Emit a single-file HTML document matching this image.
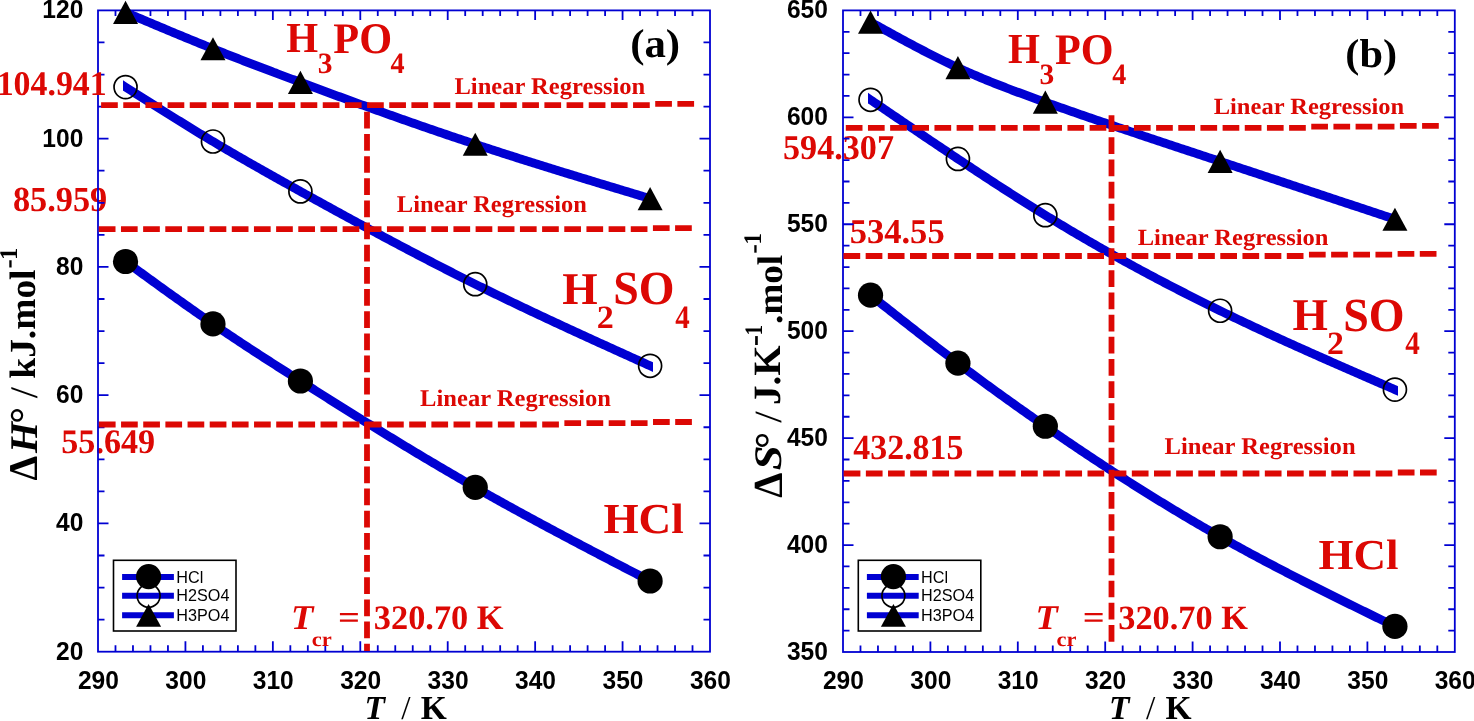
<!DOCTYPE html>
<html><head><meta charset="utf-8"><title>Thermodynamic parameters</title>
<style>html,body{margin:0;padding:0;background:#fff;width:1474px;height:721px;overflow:hidden}</style>
</head><body>
<svg width="1474" height="721" viewBox="0 0 1474 721" style="display:block" text-rendering="geometricPrecision">
<rect width="1474" height="721" fill="#fff"/>
<text transform="translate(12.98,211.41) scale(0.9718,1)" font-family="'Liberation Serif', serif" font-weight="bold" font-size="35.27" fill="#dc0804">85.959</text>
<text transform="translate(61.29,453.26) scale(0.9901,1)" font-family="'Liberation Serif', serif" font-weight="bold" font-size="34.48" fill="#dc0804">55.649</text>
<text transform="translate(782.98,159.20) scale(0.9829,1)" font-family="'Liberation Serif', serif" font-weight="bold" font-size="34.77" fill="#dc0804">594.307</text>
<text transform="translate(849.65,243.02) scale(0.9924,1)" font-family="'Liberation Serif', serif" font-weight="bold" font-size="34.82" fill="#dc0804">534.55</text>
<text transform="translate(853.34,459.37) scale(0.9594,1)" font-family="'Liberation Serif', serif" font-weight="bold" font-size="35.30" fill="#dc0804">432.815</text>
<rect x="98" y="10.4" width="612.00" height="641.30" fill="none" stroke="#0000d2" stroke-width="1.8"/>
<path d="M115.49 651.70V645.20M115.49 10.40V15.90M132.97 651.70V645.20M132.97 10.40V15.90M150.46 651.70V645.20M150.46 10.40V15.90M167.94 651.70V645.20M167.94 10.40V15.90M185.43 651.70V641.20M185.43 10.40V19.90M202.91 651.70V645.20M202.91 10.40V15.90M220.40 651.70V645.20M220.40 10.40V15.90M237.89 651.70V645.20M237.89 10.40V15.90M255.37 651.70V645.20M255.37 10.40V15.90M272.86 651.70V641.20M272.86 10.40V19.90M290.34 651.70V645.20M290.34 10.40V15.90M307.83 651.70V645.20M307.83 10.40V15.90M325.31 651.70V645.20M325.31 10.40V15.90M342.80 651.70V645.20M342.80 10.40V15.90M360.29 651.70V641.20M360.29 10.40V19.90M377.77 651.70V645.20M377.77 10.40V15.90M395.26 651.70V645.20M395.26 10.40V15.90M412.74 651.70V645.20M412.74 10.40V15.90M430.23 651.70V645.20M430.23 10.40V15.90M447.71 651.70V641.20M447.71 10.40V19.90M465.20 651.70V645.20M465.20 10.40V15.90M482.69 651.70V645.20M482.69 10.40V15.90M500.17 651.70V645.20M500.17 10.40V15.90M517.66 651.70V645.20M517.66 10.40V15.90M535.14 651.70V641.20M535.14 10.40V19.90M552.63 651.70V645.20M552.63 10.40V15.90M570.11 651.70V645.20M570.11 10.40V15.90M587.60 651.70V645.20M587.60 10.40V15.90M605.09 651.70V645.20M605.09 10.40V15.90M622.57 651.70V641.20M622.57 10.40V19.90M640.06 651.70V645.20M640.06 10.40V15.90M657.54 651.70V645.20M657.54 10.40V15.90M675.03 651.70V645.20M675.03 10.40V15.90M692.51 651.70V645.20M692.51 10.40V15.90M98.00 619.63H104.50M710.00 619.63H703.50M98.00 587.57H104.50M710.00 587.57H703.50M98.00 555.50H104.50M710.00 555.50H703.50M98.00 523.44H108.50M710.00 523.44H699.50M98.00 491.38H104.50M710.00 491.38H703.50M98.00 459.31H104.50M710.00 459.31H703.50M98.00 427.25H104.50M710.00 427.25H703.50M98.00 395.18H108.50M710.00 395.18H699.50M98.00 363.12H104.50M710.00 363.12H703.50M98.00 331.05H104.50M710.00 331.05H703.50M98.00 298.98H104.50M710.00 298.98H703.50M98.00 266.92H108.50M710.00 266.92H699.50M98.00 234.85H104.50M710.00 234.85H703.50M98.00 202.79H104.50M710.00 202.79H703.50M98.00 170.72H104.50M710.00 170.72H703.50M98.00 138.66H108.50M710.00 138.66H699.50M98.00 106.60H104.50M710.00 106.60H703.50M98.00 74.53H104.50M710.00 74.53H703.50M98.00 42.46H104.50M710.00 42.46H703.50" stroke="#0000d2" stroke-width="1.8" fill="none"/>
<rect x="843" y="10.4" width="611.80" height="641.60" fill="none" stroke="#0000d2" stroke-width="1.8"/>
<path d="M860.48 652.00V645.50M860.48 10.40V15.90M877.96 652.00V645.50M877.96 10.40V15.90M895.44 652.00V645.50M895.44 10.40V15.90M912.92 652.00V645.50M912.92 10.40V15.90M930.40 652.00V641.50M930.40 10.40V19.90M947.88 652.00V645.50M947.88 10.40V15.90M965.36 652.00V645.50M965.36 10.40V15.90M982.84 652.00V645.50M982.84 10.40V15.90M1000.32 652.00V645.50M1000.32 10.40V15.90M1017.80 652.00V641.50M1017.80 10.40V19.90M1035.28 652.00V645.50M1035.28 10.40V15.90M1052.76 652.00V645.50M1052.76 10.40V15.90M1070.24 652.00V645.50M1070.24 10.40V15.90M1087.72 652.00V645.50M1087.72 10.40V15.90M1105.20 652.00V641.50M1105.20 10.40V19.90M1122.68 652.00V645.50M1122.68 10.40V15.90M1140.16 652.00V645.50M1140.16 10.40V15.90M1157.64 652.00V645.50M1157.64 10.40V15.90M1175.12 652.00V645.50M1175.12 10.40V15.90M1192.60 652.00V641.50M1192.60 10.40V19.90M1210.08 652.00V645.50M1210.08 10.40V15.90M1227.56 652.00V645.50M1227.56 10.40V15.90M1245.04 652.00V645.50M1245.04 10.40V15.90M1262.52 652.00V645.50M1262.52 10.40V15.90M1280.00 652.00V641.50M1280.00 10.40V19.90M1297.48 652.00V645.50M1297.48 10.40V15.90M1314.96 652.00V645.50M1314.96 10.40V15.90M1332.44 652.00V645.50M1332.44 10.40V15.90M1349.92 652.00V645.50M1349.92 10.40V15.90M1367.40 652.00V641.50M1367.40 10.40V19.90M1384.88 652.00V645.50M1384.88 10.40V15.90M1402.36 652.00V645.50M1402.36 10.40V15.90M1419.84 652.00V645.50M1419.84 10.40V15.90M1437.32 652.00V645.50M1437.32 10.40V15.90M843.00 630.61H849.50M1454.80 630.61H1448.30M843.00 609.23H849.50M1454.80 609.23H1448.30M843.00 587.84H849.50M1454.80 587.84H1448.30M843.00 566.45H849.50M1454.80 566.45H1448.30M843.00 545.07H853.50M1454.80 545.07H1444.30M843.00 523.68H849.50M1454.80 523.68H1448.30M843.00 502.29H849.50M1454.80 502.29H1448.30M843.00 480.91H849.50M1454.80 480.91H1448.30M843.00 459.52H849.50M1454.80 459.52H1448.30M843.00 438.13H853.50M1454.80 438.13H1444.30M843.00 416.75H849.50M1454.80 416.75H1448.30M843.00 395.36H849.50M1454.80 395.36H1448.30M843.00 373.97H849.50M1454.80 373.97H1448.30M843.00 352.59H849.50M1454.80 352.59H1448.30M843.00 331.20H853.50M1454.80 331.20H1444.30M843.00 309.81H849.50M1454.80 309.81H1448.30M843.00 288.43H849.50M1454.80 288.43H1448.30M843.00 267.04H849.50M1454.80 267.04H1448.30M843.00 245.65H849.50M1454.80 245.65H1448.30M843.00 224.27H853.50M1454.80 224.27H1444.30M843.00 202.88H849.50M1454.80 202.88H1448.30M843.00 181.49H849.50M1454.80 181.49H1448.30M843.00 160.11H849.50M1454.80 160.11H1448.30M843.00 138.72H849.50M1454.80 138.72H1448.30M843.00 117.33H853.50M1454.80 117.33H1444.30M843.00 95.95H849.50M1454.80 95.95H1448.30M843.00 74.56H849.50M1454.80 74.56H1448.30M843.00 53.17H849.50M1454.80 53.17H1448.30M843.00 31.79H849.50M1454.80 31.79H1448.30" stroke="#0000d2" stroke-width="1.8" fill="none"/>
<clipPath id="clip1"><rect x="122.94" y="0" width="530.17" height="721"/></clipPath>
<g clip-path="url(#clip1)">
<path d="M117.54 9.01 L125.54 12.40 L127.54 13.25 L129.54 14.09 L131.54 14.94 L133.54 15.79 L135.54 16.63 L137.54 17.48 L139.54 18.32 L141.54 19.17 L143.54 20.01 L145.54 20.86 L147.54 21.70 L149.54 22.54 L151.54 23.39 L153.54 24.23 L155.54 25.07 L157.54 25.91 L159.54 26.75 L161.54 27.59 L163.54 28.43 L165.54 29.27 L167.54 30.10 L169.54 30.94 L171.54 31.77 L173.54 32.61 L175.54 33.44 L177.54 34.27 L179.54 35.10 L181.54 35.93 L183.54 36.76 L185.54 37.58 L187.54 38.41 L189.54 39.23 L191.54 40.05 L193.54 40.87 L195.54 41.69 L197.54 42.51 L199.54 43.32 L201.54 44.14 L203.54 44.95 L205.54 45.76 L207.54 46.57 L209.54 47.37 L211.54 48.18 L213.54 48.98 L215.54 49.78 L217.54 50.58 L219.54 51.37 L221.54 52.17 L223.54 52.96 L225.54 53.75 L227.54 54.54 L229.54 55.32 L231.54 56.11 L233.54 56.89 L235.54 57.67 L237.54 58.45 L239.54 59.23 L241.54 60.01 L243.54 60.78 L245.54 61.56 L247.54 62.33 L249.54 63.10 L251.54 63.87 L253.54 64.63 L255.54 65.40 L257.54 66.16 L259.54 66.93 L261.54 67.69 L263.54 68.45 L265.54 69.21 L267.54 69.97 L269.54 70.73 L271.54 71.48 L273.54 72.24 L275.54 72.99 L277.54 73.75 L279.54 74.50 L281.54 75.25 L283.54 76.00 L285.54 76.75 L287.54 77.50 L289.54 78.25 L291.54 79.00 L293.54 79.74 L295.54 80.49 L297.54 81.24 L299.54 81.98 L301.54 82.73 L303.54 83.47 L305.54 84.21 L307.54 84.96 L309.54 85.70 L311.54 86.44 L313.54 87.18 L315.54 87.92 L317.54 88.66 L319.54 89.40 L321.54 90.14 L323.54 90.87 L325.54 91.61 L327.54 92.35 L329.54 93.08 L331.54 93.82 L333.54 94.55 L335.54 95.29 L337.54 96.02 L339.54 96.75 L341.54 97.48 L343.54 98.21 L345.54 98.94 L347.54 99.67 L349.54 100.40 L351.54 101.13 L353.54 101.86 L355.54 102.58 L357.54 103.31 L359.54 104.03 L361.54 104.76 L363.54 105.48 L365.54 106.20 L367.54 106.92 L369.54 107.64 L371.54 108.36 L373.54 109.08 L375.54 109.80 L377.54 110.51 L379.54 111.23 L381.54 111.94 L383.54 112.66 L385.54 113.37 L387.54 114.08 L389.54 114.80 L391.54 115.51 L393.54 116.21 L395.54 116.92 L397.54 117.63 L399.54 118.34 L401.54 119.04 L403.54 119.75 L405.54 120.45 L407.54 121.15 L409.54 121.85 L411.54 122.55 L413.54 123.25 L415.54 123.95 L417.54 124.65 L419.54 125.34 L421.54 126.04 L423.54 126.73 L425.54 127.42 L427.54 128.11 L429.54 128.80 L431.54 129.49 L433.54 130.18 L435.54 130.87 L437.54 131.55 L439.54 132.24 L441.54 132.92 L443.54 133.60 L445.54 134.28 L447.54 134.96 L449.54 135.64 L451.54 136.32 L453.54 136.99 L455.54 137.67 L457.54 138.34 L459.54 139.01 L461.54 139.69 L463.54 140.36 L465.54 141.02 L467.54 141.69 L469.54 142.36 L471.54 143.02 L473.54 143.68 L475.54 144.34 L477.54 145.00 L479.54 145.66 L481.54 146.32 L483.54 146.98 L485.54 147.63 L487.54 148.29 L489.54 148.94 L491.54 149.59 L493.54 150.24 L495.54 150.89 L497.54 151.54 L499.54 152.18 L501.54 152.83 L503.54 153.47 L505.54 154.11 L507.54 154.76 L509.54 155.40 L511.54 156.04 L513.54 156.68 L515.54 157.31 L517.54 157.95 L519.54 158.58 L521.54 159.22 L523.54 159.85 L525.54 160.48 L527.54 161.12 L529.54 161.75 L531.54 162.38 L533.54 163.01 L535.54 163.63 L537.54 164.26 L539.54 164.89 L541.54 165.51 L543.54 166.14 L545.54 166.76 L547.54 167.38 L549.54 168.00 L551.54 168.62 L553.54 169.24 L555.54 169.86 L557.54 170.48 L559.54 171.10 L561.54 171.72 L563.54 172.34 L565.54 172.95 L567.54 173.57 L569.54 174.18 L571.54 174.80 L573.54 175.41 L575.54 176.02 L577.54 176.64 L579.54 177.25 L581.54 177.86 L583.54 178.47 L585.54 179.08 L587.54 179.69 L589.54 180.30 L591.54 180.91 L593.54 181.52 L595.54 182.12 L597.54 182.73 L599.54 183.34 L601.54 183.94 L603.54 184.55 L605.54 185.16 L607.54 185.76 L609.54 186.37 L611.54 186.97 L613.54 187.58 L615.54 188.18 L617.54 188.79 L619.54 189.39 L621.54 189.99 L623.54 190.60 L625.54 191.20 L627.54 191.80 L629.54 192.41 L631.54 193.01 L633.54 193.61 L635.54 194.21 L637.54 194.82 L639.54 195.42 L641.54 196.02 L643.54 196.62 L645.54 197.22 L647.54 197.83 L649.54 198.43 L650.11 198.60 L658.11 201.01" stroke="#0000d2" stroke-width="8.8" fill="none" stroke-linejoin="round"/>
<path d="M117.54 82.02 L125.54 87.10 L127.54 88.37 L129.54 89.64 L131.54 90.91 L133.54 92.18 L135.54 93.44 L137.54 94.71 L139.54 95.98 L141.54 97.25 L143.54 98.51 L145.54 99.78 L147.54 101.04 L149.54 102.31 L151.54 103.57 L153.54 104.83 L155.54 106.09 L157.54 107.35 L159.54 108.61 L161.54 109.87 L163.54 111.12 L165.54 112.38 L167.54 113.63 L169.54 114.88 L171.54 116.13 L173.54 117.38 L175.54 118.63 L177.54 119.87 L179.54 121.11 L181.54 122.35 L183.54 123.59 L185.54 124.82 L187.54 126.06 L189.54 127.29 L191.54 128.52 L193.54 129.74 L195.54 130.97 L197.54 132.19 L199.54 133.40 L201.54 134.62 L203.54 135.83 L205.54 137.04 L207.54 138.24 L209.54 139.45 L211.54 140.65 L213.54 141.84 L215.54 143.03 L217.54 144.22 L219.54 145.41 L221.54 146.59 L223.54 147.77 L225.54 148.95 L227.54 150.12 L229.54 151.29 L231.54 152.46 L233.54 153.62 L235.54 154.79 L237.54 155.95 L239.54 157.10 L241.54 158.26 L243.54 159.41 L245.54 160.56 L247.54 161.71 L249.54 162.85 L251.54 164.00 L253.54 165.14 L255.54 166.27 L257.54 167.41 L259.54 168.55 L261.54 169.68 L263.54 170.81 L265.54 171.94 L267.54 173.07 L269.54 174.19 L271.54 175.32 L273.54 176.44 L275.54 177.56 L277.54 178.68 L279.54 179.80 L281.54 180.92 L283.54 182.03 L285.54 183.15 L287.54 184.26 L289.54 185.37 L291.54 186.49 L293.54 187.60 L295.54 188.71 L297.54 189.82 L299.54 190.92 L301.54 192.03 L303.54 193.14 L305.54 194.25 L307.54 195.35 L309.54 196.46 L311.54 197.57 L313.54 198.67 L315.54 199.77 L317.54 200.88 L319.54 201.98 L321.54 203.08 L323.54 204.18 L325.54 205.28 L327.54 206.38 L329.54 207.48 L331.54 208.58 L333.54 209.67 L335.54 210.77 L337.54 211.86 L339.54 212.96 L341.54 214.05 L343.54 215.14 L345.54 216.24 L347.54 217.33 L349.54 218.42 L351.54 219.50 L353.54 220.59 L355.54 221.68 L357.54 222.76 L359.54 223.85 L361.54 224.93 L363.54 226.01 L365.54 227.09 L367.54 228.17 L369.54 229.25 L371.54 230.33 L373.54 231.41 L375.54 232.48 L377.54 233.56 L379.54 234.63 L381.54 235.70 L383.54 236.77 L385.54 237.84 L387.54 238.91 L389.54 239.97 L391.54 241.04 L393.54 242.10 L395.54 243.16 L397.54 244.22 L399.54 245.28 L401.54 246.34 L403.54 247.40 L405.54 248.45 L407.54 249.51 L409.54 250.56 L411.54 251.61 L413.54 252.66 L415.54 253.71 L417.54 254.75 L419.54 255.80 L421.54 256.84 L423.54 257.88 L425.54 258.92 L427.54 259.96 L429.54 261.00 L431.54 262.03 L433.54 263.07 L435.54 264.10 L437.54 265.13 L439.54 266.15 L441.54 267.18 L443.54 268.20 L445.54 269.23 L447.54 270.25 L449.54 271.27 L451.54 272.28 L453.54 273.30 L455.54 274.31 L457.54 275.33 L459.54 276.33 L461.54 277.34 L463.54 278.35 L465.54 279.35 L467.54 280.35 L469.54 281.35 L471.54 282.35 L473.54 283.35 L475.54 284.34 L477.54 285.33 L479.54 286.32 L481.54 287.31 L483.54 288.30 L485.54 289.28 L487.54 290.26 L489.54 291.24 L491.54 292.22 L493.54 293.20 L495.54 294.17 L497.54 295.14 L499.54 296.12 L501.54 297.08 L503.54 298.05 L505.54 299.02 L507.54 299.98 L509.54 300.94 L511.54 301.90 L513.54 302.86 L515.54 303.82 L517.54 304.78 L519.54 305.73 L521.54 306.68 L523.54 307.63 L525.54 308.58 L527.54 309.53 L529.54 310.48 L531.54 311.42 L533.54 312.37 L535.54 313.31 L537.54 314.25 L539.54 315.19 L541.54 316.13 L543.54 317.07 L545.54 318.00 L547.54 318.94 L549.54 319.87 L551.54 320.81 L553.54 321.74 L555.54 322.67 L557.54 323.60 L559.54 324.52 L561.54 325.45 L563.54 326.38 L565.54 327.30 L567.54 328.23 L569.54 329.15 L571.54 330.07 L573.54 330.99 L575.54 331.91 L577.54 332.83 L579.54 333.75 L581.54 334.67 L583.54 335.58 L585.54 336.50 L587.54 337.42 L589.54 338.33 L591.54 339.24 L593.54 340.16 L595.54 341.07 L597.54 341.98 L599.54 342.89 L601.54 343.80 L603.54 344.71 L605.54 345.62 L607.54 346.53 L609.54 347.44 L611.54 348.35 L613.54 349.26 L615.54 350.16 L617.54 351.07 L619.54 351.98 L621.54 352.88 L623.54 353.79 L625.54 354.69 L627.54 355.60 L629.54 356.50 L631.54 357.41 L633.54 358.31 L635.54 359.22 L637.54 360.12 L639.54 361.02 L641.54 361.93 L643.54 362.83 L645.54 363.73 L647.54 364.64 L649.54 365.54 L650.11 365.80 L658.11 369.41" stroke="#0000d2" stroke-width="8.8" fill="none" stroke-linejoin="round"/>
<path d="M117.54 255.67 L125.54 261.50 L127.54 262.96 L129.54 264.41 L131.54 265.87 L133.54 267.33 L135.54 268.78 L137.54 270.24 L139.54 271.69 L141.54 273.15 L143.54 274.60 L145.54 276.05 L147.54 277.50 L149.54 278.95 L151.54 280.40 L153.54 281.85 L155.54 283.30 L157.54 284.74 L159.54 286.19 L161.54 287.63 L163.54 289.07 L165.54 290.51 L167.54 291.95 L169.54 293.38 L171.54 294.82 L173.54 296.25 L175.54 297.68 L177.54 299.11 L179.54 300.53 L181.54 301.95 L183.54 303.37 L185.54 304.79 L187.54 306.20 L189.54 307.61 L191.54 309.02 L193.54 310.43 L195.54 311.83 L197.54 313.23 L199.54 314.62 L201.54 316.01 L203.54 317.40 L205.54 318.79 L207.54 320.17 L209.54 321.55 L211.54 322.92 L213.54 324.29 L215.54 325.66 L217.54 327.02 L219.54 328.38 L221.54 329.73 L223.54 331.08 L225.54 332.43 L227.54 333.77 L229.54 335.11 L231.54 336.45 L233.54 337.78 L235.54 339.11 L237.54 340.44 L239.54 341.76 L241.54 343.08 L243.54 344.40 L245.54 345.72 L247.54 347.03 L249.54 348.34 L251.54 349.65 L253.54 350.95 L255.54 352.26 L257.54 353.56 L259.54 354.85 L261.54 356.15 L263.54 357.44 L265.54 358.73 L267.54 360.02 L269.54 361.31 L271.54 362.60 L273.54 363.88 L275.54 365.16 L277.54 366.45 L279.54 367.73 L281.54 369.00 L283.54 370.28 L285.54 371.56 L287.54 372.83 L289.54 374.10 L291.54 375.38 L293.54 376.65 L295.54 377.92 L297.54 379.19 L299.54 380.46 L301.54 381.72 L303.54 382.99 L305.54 384.26 L307.54 385.53 L309.54 386.79 L311.54 388.06 L313.54 389.32 L315.54 390.59 L317.54 391.85 L319.54 393.11 L321.54 394.37 L323.54 395.63 L325.54 396.89 L327.54 398.15 L329.54 399.41 L331.54 400.67 L333.54 401.92 L335.54 403.18 L337.54 404.43 L339.54 405.69 L341.54 406.94 L343.54 408.19 L345.54 409.44 L347.54 410.69 L349.54 411.94 L351.54 413.19 L353.54 414.44 L355.54 415.68 L357.54 416.92 L359.54 418.17 L361.54 419.41 L363.54 420.65 L365.54 421.89 L367.54 423.13 L369.54 424.36 L371.54 425.60 L373.54 426.83 L375.54 428.07 L377.54 429.30 L379.54 430.53 L381.54 431.76 L383.54 432.98 L385.54 434.21 L387.54 435.43 L389.54 436.66 L391.54 437.88 L393.54 439.10 L395.54 440.32 L397.54 441.53 L399.54 442.75 L401.54 443.96 L403.54 445.17 L405.54 446.39 L407.54 447.59 L409.54 448.80 L411.54 450.01 L413.54 451.21 L415.54 452.41 L417.54 453.61 L419.54 454.81 L421.54 456.01 L423.54 457.20 L425.54 458.40 L427.54 459.59 L429.54 460.78 L431.54 461.96 L433.54 463.15 L435.54 464.33 L437.54 465.51 L439.54 466.69 L441.54 467.87 L443.54 469.05 L445.54 470.22 L447.54 471.39 L449.54 472.56 L451.54 473.73 L453.54 474.89 L455.54 476.06 L457.54 477.22 L459.54 478.38 L461.54 479.53 L463.54 480.69 L465.54 481.84 L467.54 482.99 L469.54 484.13 L471.54 485.28 L473.54 486.42 L475.54 487.56 L477.54 488.70 L479.54 489.84 L481.54 490.97 L483.54 492.10 L485.54 493.23 L487.54 494.36 L489.54 495.48 L491.54 496.60 L493.54 497.72 L495.54 498.84 L497.54 499.96 L499.54 501.07 L501.54 502.18 L503.54 503.29 L505.54 504.40 L507.54 505.51 L509.54 506.61 L511.54 507.71 L513.54 508.81 L515.54 509.91 L517.54 511.01 L519.54 512.10 L521.54 513.19 L523.54 514.29 L525.54 515.38 L527.54 516.46 L529.54 517.55 L531.54 518.63 L533.54 519.72 L535.54 520.80 L537.54 521.88 L539.54 522.96 L541.54 524.03 L543.54 525.11 L545.54 526.18 L547.54 527.25 L549.54 528.32 L551.54 529.39 L553.54 530.46 L555.54 531.53 L557.54 532.60 L559.54 533.66 L561.54 534.72 L563.54 535.79 L565.54 536.85 L567.54 537.91 L569.54 538.96 L571.54 540.02 L573.54 541.08 L575.54 542.13 L577.54 543.19 L579.54 544.24 L581.54 545.29 L583.54 546.35 L585.54 547.40 L587.54 548.45 L589.54 549.50 L591.54 550.54 L593.54 551.59 L595.54 552.64 L597.54 553.68 L599.54 554.73 L601.54 555.77 L603.54 556.82 L605.54 557.86 L607.54 558.90 L609.54 559.94 L611.54 560.99 L613.54 562.03 L615.54 563.07 L617.54 564.11 L619.54 565.15 L621.54 566.19 L623.54 567.22 L625.54 568.26 L627.54 569.30 L629.54 570.34 L631.54 571.38 L633.54 572.41 L635.54 573.45 L637.54 574.49 L639.54 575.52 L641.54 576.56 L643.54 577.60 L645.54 578.63 L647.54 579.67 L649.54 580.70 L650.11 581.00 L658.11 585.14" stroke="#0000d2" stroke-width="8.8" fill="none" stroke-linejoin="round"/>
</g>
<clipPath id="clip2"><rect x="867.93" y="0" width="530.00" height="721"/></clipPath>
<g clip-path="url(#clip2)">
<path d="M862.53 17.62 L870.53 22.05 L872.53 23.16 L874.53 24.26 L876.53 25.37 L878.53 26.47 L880.53 27.58 L882.53 28.68 L884.53 29.78 L886.53 30.88 L888.53 31.98 L890.53 33.08 L892.53 34.18 L894.53 35.27 L896.53 36.36 L898.53 37.45 L900.53 38.54 L902.53 39.62 L904.53 40.70 L906.53 41.77 L908.53 42.85 L910.53 43.92 L912.53 44.98 L914.53 46.04 L916.53 47.10 L918.53 48.15 L920.53 49.20 L922.53 50.25 L924.53 51.28 L926.53 52.32 L928.53 53.34 L930.53 54.37 L932.53 55.38 L934.53 56.39 L936.53 57.40 L938.53 58.39 L940.53 59.39 L942.53 60.37 L944.53 61.35 L946.53 62.32 L948.53 63.28 L950.53 64.23 L952.53 65.18 L954.53 66.12 L956.53 67.05 L958.53 67.98 L960.53 68.89 L962.53 69.80 L964.53 70.70 L966.53 71.59 L968.53 72.47 L970.53 73.34 L972.53 74.21 L974.53 75.07 L976.53 75.92 L978.53 76.77 L980.53 77.61 L982.53 78.44 L984.53 79.27 L986.53 80.09 L988.53 80.90 L990.53 81.71 L992.53 82.52 L994.53 83.31 L996.53 84.10 L998.53 84.89 L1000.53 85.67 L1002.53 86.45 L1004.53 87.22 L1006.53 87.99 L1008.53 88.75 L1010.53 89.51 L1012.53 90.26 L1014.53 91.01 L1016.53 91.76 L1018.53 92.50 L1020.53 93.24 L1022.53 93.98 L1024.53 94.71 L1026.53 95.44 L1028.53 96.17 L1030.53 96.90 L1032.53 97.62 L1034.53 98.34 L1036.53 99.06 L1038.53 99.78 L1040.53 100.49 L1042.53 101.20 L1044.53 101.92 L1046.53 102.63 L1048.53 103.34 L1050.53 104.04 L1052.53 104.75 L1054.53 105.46 L1056.53 106.16 L1058.53 106.87 L1060.53 107.57 L1062.53 108.27 L1064.53 108.97 L1066.53 109.67 L1068.53 110.37 L1070.53 111.07 L1072.53 111.77 L1074.53 112.46 L1076.53 113.16 L1078.53 113.85 L1080.53 114.54 L1082.53 115.24 L1084.53 115.93 L1086.53 116.62 L1088.53 117.31 L1090.53 117.99 L1092.53 118.68 L1094.53 119.37 L1096.53 120.05 L1098.53 120.74 L1100.53 121.42 L1102.53 122.11 L1104.53 122.79 L1106.53 123.47 L1108.53 124.15 L1110.53 124.83 L1112.53 125.51 L1114.53 126.19 L1116.53 126.87 L1118.53 127.55 L1120.53 128.23 L1122.53 128.90 L1124.53 129.58 L1126.53 130.25 L1128.53 130.93 L1130.53 131.60 L1132.53 132.28 L1134.53 132.95 L1136.53 133.62 L1138.53 134.29 L1140.53 134.96 L1142.53 135.63 L1144.53 136.30 L1146.53 136.97 L1148.53 137.64 L1150.53 138.31 L1152.53 138.98 L1154.53 139.65 L1156.53 140.32 L1158.53 140.98 L1160.53 141.65 L1162.53 142.32 L1164.53 142.98 L1166.53 143.65 L1168.53 144.31 L1170.53 144.98 L1172.53 145.64 L1174.53 146.31 L1176.53 146.97 L1178.53 147.63 L1180.53 148.30 L1182.53 148.96 L1184.53 149.62 L1186.53 150.29 L1188.53 150.95 L1190.53 151.61 L1192.53 152.27 L1194.53 152.93 L1196.53 153.60 L1198.53 154.26 L1200.53 154.92 L1202.53 155.58 L1204.53 156.24 L1206.53 156.90 L1208.53 157.57 L1210.53 158.23 L1212.53 158.89 L1214.53 159.55 L1216.53 160.21 L1218.53 160.87 L1220.53 161.53 L1222.53 162.19 L1224.53 162.85 L1226.53 163.52 L1228.53 164.18 L1230.53 164.84 L1232.53 165.50 L1234.53 166.16 L1236.53 166.82 L1238.53 167.48 L1240.53 168.15 L1242.53 168.81 L1244.53 169.47 L1246.53 170.13 L1248.53 170.79 L1250.53 171.45 L1252.53 172.11 L1254.53 172.78 L1256.53 173.44 L1258.53 174.10 L1260.53 174.76 L1262.53 175.42 L1264.53 176.08 L1266.53 176.74 L1268.53 177.41 L1270.53 178.07 L1272.53 178.73 L1274.53 179.39 L1276.53 180.05 L1278.53 180.72 L1280.53 181.38 L1282.53 182.04 L1284.53 182.70 L1286.53 183.36 L1288.53 184.02 L1290.53 184.69 L1292.53 185.35 L1294.53 186.01 L1296.53 186.67 L1298.53 187.33 L1300.53 188.00 L1302.53 188.66 L1304.53 189.32 L1306.53 189.98 L1308.53 190.64 L1310.53 191.31 L1312.53 191.97 L1314.53 192.63 L1316.53 193.29 L1318.53 193.95 L1320.53 194.62 L1322.53 195.28 L1324.53 195.94 L1326.53 196.60 L1328.53 197.26 L1330.53 197.93 L1332.53 198.59 L1334.53 199.25 L1336.53 199.91 L1338.53 200.57 L1340.53 201.24 L1342.53 201.90 L1344.53 202.56 L1346.53 203.22 L1348.53 203.89 L1350.53 204.55 L1352.53 205.21 L1354.53 205.87 L1356.53 206.53 L1358.53 207.20 L1360.53 207.86 L1362.53 208.52 L1364.53 209.18 L1366.53 209.85 L1368.53 210.51 L1370.53 211.17 L1372.53 211.83 L1374.53 212.49 L1376.53 213.16 L1378.53 213.82 L1380.53 214.48 L1382.53 215.14 L1384.53 215.81 L1386.53 216.47 L1388.53 217.13 L1390.53 217.79 L1392.53 218.46 L1394.53 219.12 L1394.93 219.25 L1402.93 221.90" stroke="#0000d2" stroke-width="8.8" fill="none" stroke-linejoin="round"/>
<path d="M862.53 94.35 L870.53 99.80 L872.53 101.16 L874.53 102.52 L876.53 103.89 L878.53 105.25 L880.53 106.61 L882.53 107.97 L884.53 109.33 L886.53 110.69 L888.53 112.06 L890.53 113.42 L892.53 114.78 L894.53 116.14 L896.53 117.50 L898.53 118.86 L900.53 120.22 L902.53 121.57 L904.53 122.93 L906.53 124.29 L908.53 125.65 L910.53 127.00 L912.53 128.36 L914.53 129.71 L916.53 131.07 L918.53 132.42 L920.53 133.77 L922.53 135.13 L924.53 136.48 L926.53 137.83 L928.53 139.18 L930.53 140.53 L932.53 141.87 L934.53 143.22 L936.53 144.57 L938.53 145.91 L940.53 147.26 L942.53 148.60 L944.53 149.94 L946.53 151.28 L948.53 152.62 L950.53 153.96 L952.53 155.30 L954.53 156.63 L956.53 157.97 L958.53 159.30 L960.53 160.63 L962.53 161.96 L964.53 163.29 L966.53 164.62 L968.53 165.94 L970.53 167.27 L972.53 168.59 L974.53 169.91 L976.53 171.23 L978.53 172.55 L980.53 173.86 L982.53 175.18 L984.53 176.49 L986.53 177.80 L988.53 179.11 L990.53 180.41 L992.53 181.72 L994.53 183.02 L996.53 184.32 L998.53 185.61 L1000.53 186.91 L1002.53 188.20 L1004.53 189.49 L1006.53 190.78 L1008.53 192.06 L1010.53 193.35 L1012.53 194.63 L1014.53 195.90 L1016.53 197.18 L1018.53 198.45 L1020.53 199.72 L1022.53 200.98 L1024.53 202.25 L1026.53 203.51 L1028.53 204.76 L1030.53 206.02 L1032.53 207.27 L1034.53 208.52 L1036.53 209.76 L1038.53 211.00 L1040.53 212.24 L1042.53 213.48 L1044.53 214.71 L1046.53 215.94 L1048.53 217.16 L1050.53 218.38 L1052.53 219.60 L1054.53 220.82 L1056.53 222.03 L1058.53 223.23 L1060.53 224.44 L1062.53 225.64 L1064.53 226.84 L1066.53 228.03 L1068.53 229.22 L1070.53 230.41 L1072.53 231.60 L1074.53 232.78 L1076.53 233.95 L1078.53 235.13 L1080.53 236.30 L1082.53 237.47 L1084.53 238.63 L1086.53 239.80 L1088.53 240.96 L1090.53 242.11 L1092.53 243.26 L1094.53 244.41 L1096.53 245.56 L1098.53 246.70 L1100.53 247.84 L1102.53 248.98 L1104.53 250.11 L1106.53 251.24 L1108.53 252.37 L1110.53 253.49 L1112.53 254.61 L1114.53 255.73 L1116.53 256.85 L1118.53 257.96 L1120.53 259.07 L1122.53 260.18 L1124.53 261.28 L1126.53 262.38 L1128.53 263.48 L1130.53 264.57 L1132.53 265.66 L1134.53 266.75 L1136.53 267.83 L1138.53 268.92 L1140.53 270.00 L1142.53 271.07 L1144.53 272.15 L1146.53 273.22 L1148.53 274.29 L1150.53 275.35 L1152.53 276.42 L1154.53 277.47 L1156.53 278.53 L1158.53 279.59 L1160.53 280.64 L1162.53 281.69 L1164.53 282.73 L1166.53 283.77 L1168.53 284.82 L1170.53 285.85 L1172.53 286.89 L1174.53 287.92 L1176.53 288.95 L1178.53 289.98 L1180.53 291.00 L1182.53 292.02 L1184.53 293.04 L1186.53 294.06 L1188.53 295.07 L1190.53 296.08 L1192.53 297.09 L1194.53 298.10 L1196.53 299.10 L1198.53 300.10 L1200.53 301.10 L1202.53 302.10 L1204.53 303.09 L1206.53 304.08 L1208.53 305.07 L1210.53 306.05 L1212.53 307.04 L1214.53 308.02 L1216.53 309.00 L1218.53 309.97 L1220.53 310.94 L1222.53 311.92 L1224.53 312.88 L1226.53 313.85 L1228.53 314.81 L1230.53 315.78 L1232.53 316.74 L1234.53 317.69 L1236.53 318.65 L1238.53 319.60 L1240.53 320.55 L1242.53 321.50 L1244.53 322.45 L1246.53 323.39 L1248.53 324.33 L1250.53 325.27 L1252.53 326.21 L1254.53 327.15 L1256.53 328.08 L1258.53 329.01 L1260.53 329.94 L1262.53 330.87 L1264.53 331.80 L1266.53 332.72 L1268.53 333.65 L1270.53 334.57 L1272.53 335.49 L1274.53 336.40 L1276.53 337.32 L1278.53 338.24 L1280.53 339.15 L1282.53 340.06 L1284.53 340.97 L1286.53 341.88 L1288.53 342.79 L1290.53 343.69 L1292.53 344.59 L1294.53 345.50 L1296.53 346.40 L1298.53 347.30 L1300.53 348.20 L1302.53 349.09 L1304.53 349.99 L1306.53 350.88 L1308.53 351.78 L1310.53 352.67 L1312.53 353.56 L1314.53 354.45 L1316.53 355.34 L1318.53 356.23 L1320.53 357.11 L1322.53 358.00 L1324.53 358.88 L1326.53 359.77 L1328.53 360.65 L1330.53 361.53 L1332.53 362.41 L1334.53 363.29 L1336.53 364.17 L1338.53 365.05 L1340.53 365.93 L1342.53 366.80 L1344.53 367.68 L1346.53 368.56 L1348.53 369.43 L1350.53 370.30 L1352.53 371.18 L1354.53 372.05 L1356.53 372.92 L1358.53 373.79 L1360.53 374.67 L1362.53 375.54 L1364.53 376.41 L1366.53 377.28 L1368.53 378.15 L1370.53 379.02 L1372.53 379.88 L1374.53 380.75 L1376.53 381.62 L1378.53 382.49 L1380.53 383.36 L1382.53 384.22 L1384.53 385.09 L1386.53 385.96 L1388.53 386.83 L1390.53 387.69 L1392.53 388.56 L1394.53 389.43 L1394.93 389.60 L1402.93 393.07" stroke="#0000d2" stroke-width="8.8" fill="none" stroke-linejoin="round"/>
<path d="M862.53 288.88 L870.53 295.20 L872.53 296.78 L874.53 298.36 L876.53 299.94 L878.53 301.52 L880.53 303.10 L882.53 304.68 L884.53 306.26 L886.53 307.83 L888.53 309.41 L890.53 310.99 L892.53 312.56 L894.53 314.14 L896.53 315.71 L898.53 317.29 L900.53 318.86 L902.53 320.43 L904.53 322.00 L906.53 323.57 L908.53 325.14 L910.53 326.70 L912.53 328.27 L914.53 329.83 L916.53 331.39 L918.53 332.95 L920.53 334.51 L922.53 336.06 L924.53 337.61 L926.53 339.17 L928.53 340.72 L930.53 342.26 L932.53 343.81 L934.53 345.35 L936.53 346.89 L938.53 348.43 L940.53 349.96 L942.53 351.50 L944.53 353.03 L946.53 354.55 L948.53 356.08 L950.53 357.60 L952.53 359.12 L954.53 360.63 L956.53 362.14 L958.53 363.65 L960.53 365.16 L962.53 366.66 L964.53 368.16 L966.53 369.65 L968.53 371.15 L970.53 372.64 L972.53 374.12 L974.53 375.61 L976.53 377.09 L978.53 378.56 L980.53 380.04 L982.53 381.51 L984.53 382.97 L986.53 384.44 L988.53 385.90 L990.53 387.36 L992.53 388.81 L994.53 390.27 L996.53 391.72 L998.53 393.16 L1000.53 394.61 L1002.53 396.05 L1004.53 397.49 L1006.53 398.92 L1008.53 400.36 L1010.53 401.79 L1012.53 403.21 L1014.53 404.64 L1016.53 406.06 L1018.53 407.48 L1020.53 408.90 L1022.53 410.31 L1024.53 411.72 L1026.53 413.13 L1028.53 414.54 L1030.53 415.94 L1032.53 417.34 L1034.53 418.74 L1036.53 420.14 L1038.53 421.53 L1040.53 422.92 L1042.53 424.31 L1044.53 425.70 L1046.53 427.08 L1048.53 428.46 L1050.53 429.84 L1052.53 431.22 L1054.53 432.59 L1056.53 433.96 L1058.53 435.33 L1060.53 436.70 L1062.53 438.07 L1064.53 439.43 L1066.53 440.79 L1068.53 442.15 L1070.53 443.50 L1072.53 444.85 L1074.53 446.20 L1076.53 447.55 L1078.53 448.89 L1080.53 450.24 L1082.53 451.57 L1084.53 452.91 L1086.53 454.25 L1088.53 455.58 L1090.53 456.91 L1092.53 458.23 L1094.53 459.56 L1096.53 460.88 L1098.53 462.19 L1100.53 463.51 L1102.53 464.82 L1104.53 466.13 L1106.53 467.44 L1108.53 468.74 L1110.53 470.04 L1112.53 471.34 L1114.53 472.64 L1116.53 473.93 L1118.53 475.22 L1120.53 476.51 L1122.53 477.80 L1124.53 479.08 L1126.53 480.36 L1128.53 481.63 L1130.53 482.91 L1132.53 484.18 L1134.53 485.44 L1136.53 486.71 L1138.53 487.97 L1140.53 489.23 L1142.53 490.48 L1144.53 491.73 L1146.53 492.98 L1148.53 494.23 L1150.53 495.47 L1152.53 496.71 L1154.53 497.95 L1156.53 499.19 L1158.53 500.42 L1160.53 501.64 L1162.53 502.87 L1164.53 504.09 L1166.53 505.31 L1168.53 506.52 L1170.53 507.74 L1172.53 508.95 L1174.53 510.15 L1176.53 511.35 L1178.53 512.55 L1180.53 513.75 L1182.53 514.94 L1184.53 516.13 L1186.53 517.32 L1188.53 518.50 L1190.53 519.68 L1192.53 520.86 L1194.53 522.03 L1196.53 523.20 L1198.53 524.37 L1200.53 525.53 L1202.53 526.69 L1204.53 527.85 L1206.53 529.00 L1208.53 530.15 L1210.53 531.30 L1212.53 532.44 L1214.53 533.58 L1216.53 534.71 L1218.53 535.85 L1220.53 536.98 L1222.53 538.10 L1224.53 539.22 L1226.53 540.34 L1228.53 541.46 L1230.53 542.57 L1232.53 543.68 L1234.53 544.78 L1236.53 545.88 L1238.53 546.98 L1240.53 548.08 L1242.53 549.17 L1244.53 550.26 L1246.53 551.35 L1248.53 552.43 L1250.53 553.51 L1252.53 554.59 L1254.53 555.66 L1256.53 556.74 L1258.53 557.81 L1260.53 558.87 L1262.53 559.94 L1264.53 561.00 L1266.53 562.06 L1268.53 563.11 L1270.53 564.16 L1272.53 565.22 L1274.53 566.26 L1276.53 567.31 L1278.53 568.35 L1280.53 569.40 L1282.53 570.43 L1284.53 571.47 L1286.53 572.51 L1288.53 573.54 L1290.53 574.57 L1292.53 575.60 L1294.53 576.62 L1296.53 577.65 L1298.53 578.67 L1300.53 579.69 L1302.53 580.71 L1304.53 581.73 L1306.53 582.74 L1308.53 583.75 L1310.53 584.76 L1312.53 585.77 L1314.53 586.78 L1316.53 587.79 L1318.53 588.79 L1320.53 589.80 L1322.53 590.80 L1324.53 591.80 L1326.53 592.80 L1328.53 593.79 L1330.53 594.79 L1332.53 595.79 L1334.53 596.78 L1336.53 597.77 L1338.53 598.76 L1340.53 599.75 L1342.53 600.74 L1344.53 601.73 L1346.53 602.72 L1348.53 603.70 L1350.53 604.69 L1352.53 605.67 L1354.53 606.66 L1356.53 607.64 L1358.53 608.62 L1360.53 609.60 L1362.53 610.58 L1364.53 611.56 L1366.53 612.54 L1368.53 613.52 L1370.53 614.50 L1372.53 615.47 L1374.53 616.45 L1376.53 617.43 L1378.53 618.40 L1380.53 619.38 L1382.53 620.36 L1384.53 621.33 L1386.53 622.31 L1388.53 623.28 L1390.53 624.26 L1392.53 625.23 L1394.53 626.21 L1394.93 626.40 L1402.93 630.30" stroke="#0000d2" stroke-width="8.8" fill="none" stroke-linejoin="round"/>
</g>
<path d="M101.10 105.10H117.80M123.26 105.10H139.96M145.43 105.10H162.13M167.59 105.10H184.29M189.76 105.10H206.46M211.92 105.10H228.62M234.09 105.10H250.79M256.25 105.10H272.95M278.42 105.10H295.12M300.58 105.10H317.28M322.75 105.10H339.45M344.92 105.10H361.62M367.08 105.10H383.78M389.25 105.10H405.95M411.41 105.10H428.11M433.58 105.10H450.28M455.74 105.10H472.44M477.91 105.10H494.61M500.07 105.10H516.77M522.24 105.10H538.94M544.40 105.10H561.10M566.57 105.10H583.27M588.73 105.10H605.43M610.89 105.10H627.60M633.06 105.10H649.76M655.22 103.90H671.92M677.39 103.90H694.09" stroke="#dc0804" stroke-width="5.8" fill="none"/>
<path d="M98.80 229.20H115.50M120.97 229.20H137.66M143.13 229.20H159.83M165.29 229.20H181.99M187.46 229.20H204.16M209.62 229.20H226.32M231.79 229.20H248.49M253.95 229.20H270.65M276.12 229.20H292.82M298.28 229.20H314.98M320.45 229.20H337.15M342.62 229.20H359.31M364.78 229.20H381.48M386.95 229.20H403.65M409.11 229.20H425.81M431.28 229.20H447.98M453.44 229.20H470.14M475.61 229.20H492.31M497.77 229.20H514.47M519.94 229.20H536.64M542.10 229.20H558.80M564.27 229.20H580.97M586.43 229.20H603.13M608.60 229.20H625.30M630.76 229.20H647.46M652.92 228.20H669.62M675.09 228.20H691.79" stroke="#dc0804" stroke-width="5.8" fill="none"/>
<path d="M98.90 424.50H115.60M121.06 424.50H137.76M143.23 424.50H159.93M165.39 424.50H182.09M187.56 424.50H204.26M209.72 424.50H226.42M231.89 424.50H248.59M254.05 424.50H270.75M276.22 424.50H292.92M298.38 424.50H315.08M320.55 424.50H337.25M342.72 424.50H359.42M364.88 424.50H381.58M387.05 424.50H403.75M409.21 424.50H425.91M431.38 424.50H448.08M453.54 424.50H470.24M475.71 424.50H492.41M497.87 424.50H514.57M520.04 424.50H536.74M542.20 424.50H558.90M564.37 423.10H581.07M586.53 423.10H603.23M608.70 423.10H625.40M630.86 423.10H647.56M653.02 422.00H669.73M675.19 422.00H691.89" stroke="#dc0804" stroke-width="5.8" fill="none"/>
<path d="M367.00 111.80V128.50M367.00 133.97V150.66M367.00 156.13V172.83M367.00 178.29V194.99M367.00 200.46V217.16M367.00 222.62V239.32M367.00 244.79V261.49M367.00 266.95V283.65M367.00 289.12V305.82M367.00 311.29V327.99M367.00 333.45V350.15M367.00 355.62V372.32M367.00 377.78V394.48M367.00 399.95V416.65M367.00 422.11V438.81M367.00 444.28V460.98M367.00 466.44V483.14M367.00 488.61V505.31M367.00 510.77V527.47M367.00 532.94V549.64M367.00 555.10V571.80M367.00 577.27V593.97M367.00 599.43V616.13M367.00 621.60V638.30M367.00 643.76V651.00" stroke="#dc0804" stroke-width="5.8" fill="none"/>
<path d="M845.80 127.90H862.50M867.96 127.90H884.66M890.13 127.90H906.83M912.29 127.90H928.99M934.46 127.90H951.16M956.62 127.90H973.32M978.79 127.90H995.49M1000.95 127.90H1017.65M1023.12 127.90H1039.82M1045.28 127.90H1061.98M1067.45 127.90H1084.15M1089.61 127.90H1106.31M1111.78 127.90H1128.48M1133.94 127.90H1150.64M1156.11 127.90H1172.81M1178.27 127.90H1194.97M1200.44 127.90H1217.14M1222.60 127.90H1239.30M1244.77 127.90H1261.47M1266.93 127.90H1283.63M1289.10 127.90H1305.80M1311.26 126.70H1327.96M1333.43 126.70H1350.13M1355.59 126.70H1372.29M1377.76 126.70H1394.46M1399.92 125.80H1416.62M1422.09 125.80H1438.79" stroke="#dc0804" stroke-width="5.8" fill="none"/>
<path d="M843.50 256.00H860.20M865.66 256.00H882.37M887.83 256.00H904.53M909.99 256.00H926.69M932.16 256.00H948.86M954.32 256.00H971.02M976.49 256.00H993.19M998.65 256.00H1015.35M1020.82 256.00H1037.52M1042.98 256.00H1059.68M1065.15 256.00H1081.85M1087.31 256.00H1104.01M1109.48 256.00H1126.18M1131.64 256.00H1148.34M1153.81 256.00H1170.51M1175.97 256.00H1192.67M1198.14 256.00H1214.84M1220.30 256.00H1237.00M1242.47 256.00H1259.17M1264.63 256.00H1281.33M1286.80 256.00H1303.50M1308.96 254.70H1325.66M1331.13 254.70H1347.83M1353.29 254.70H1369.99M1375.46 254.70H1392.16M1397.62 253.80H1414.32M1419.79 253.80H1436.49" stroke="#dc0804" stroke-width="5.8" fill="none"/>
<path d="M843.70 473.50H860.40M865.87 473.50H882.57M888.03 473.50H904.73M910.19 473.50H926.89M932.36 473.50H949.06M954.52 473.50H971.22M976.69 473.50H993.39M998.85 473.50H1015.55M1021.02 473.50H1037.72M1043.18 473.50H1059.88M1065.35 473.50H1082.05M1087.51 473.50H1104.21M1109.68 473.50H1126.38M1131.84 473.50H1148.54M1154.01 473.50H1170.71M1176.17 473.50H1192.87M1198.34 473.50H1215.04M1220.50 473.50H1237.20M1242.67 473.50H1259.37M1264.83 473.50H1281.53M1287.00 473.50H1303.70M1309.16 473.50H1325.86M1331.33 473.50H1348.03M1353.49 473.50H1370.19M1375.66 473.50H1392.36M1397.82 472.50H1414.52M1419.99 472.50H1436.69" stroke="#dc0804" stroke-width="5.8" fill="none"/>
<path d="M1111.50 115.20V131.90M1111.50 137.37V154.06M1111.50 159.53V176.23M1111.50 181.69V198.39M1111.50 203.86V220.56M1111.50 226.02V242.72M1111.50 248.19V264.89M1111.50 270.35V287.05M1111.50 292.52V309.22M1111.50 314.69V331.38M1111.50 336.85V353.55M1111.50 359.02V375.72M1111.50 381.18V397.88M1111.50 403.35V420.05M1111.50 425.51V442.21M1111.50 447.68V464.38M1111.50 469.84V486.54M1111.50 492.01V508.71M1111.50 514.17V530.87M1111.50 536.34V553.04M1111.50 558.50V575.20M1111.50 580.67V597.37M1111.50 602.83V619.53M1111.50 625.00V641.70" stroke="#dc0804" stroke-width="5.8" fill="none"/>
<circle cx="125.54" cy="261.50" r="12.6" fill="#000"/>
<circle cx="212.97" cy="323.90" r="12.6" fill="#000"/>
<circle cx="300.40" cy="381.00" r="12.6" fill="#000"/>
<circle cx="475.25" cy="487.40" r="12.6" fill="#000"/>
<circle cx="650.11" cy="581.00" r="12.6" fill="#000"/>
<circle cx="125.54" cy="87.10" r="11.5" fill="none" stroke="#000" stroke-width="1.7"/>
<circle cx="212.97" cy="141.50" r="11.5" fill="none" stroke="#000" stroke-width="1.7"/>
<circle cx="300.40" cy="191.40" r="11.5" fill="none" stroke="#000" stroke-width="1.7"/>
<circle cx="475.25" cy="284.20" r="11.5" fill="none" stroke="#000" stroke-width="1.7"/>
<circle cx="650.11" cy="365.80" r="11.5" fill="none" stroke="#000" stroke-width="1.7"/>
<path d="M125.54 0.80L138.04 24.00L113.04 24.00Z" fill="#000"/>
<path d="M212.97 37.15L225.47 60.35L200.47 60.35Z" fill="#000"/>
<path d="M300.40 70.70L312.90 93.90L287.90 93.90Z" fill="#000"/>
<path d="M475.25 132.65L487.75 155.85L462.75 155.85Z" fill="#000"/>
<path d="M650.11 187.00L662.61 210.20L637.61 210.20Z" fill="#000"/>
<circle cx="870.53" cy="295.20" r="12.6" fill="#000"/>
<circle cx="957.93" cy="363.20" r="12.6" fill="#000"/>
<circle cx="1045.33" cy="426.25" r="12.6" fill="#000"/>
<circle cx="1220.13" cy="536.75" r="12.6" fill="#000"/>
<circle cx="1394.93" cy="626.40" r="12.6" fill="#000"/>
<circle cx="870.53" cy="99.80" r="11.5" fill="none" stroke="#000" stroke-width="1.7"/>
<circle cx="957.93" cy="158.90" r="11.5" fill="none" stroke="#000" stroke-width="1.7"/>
<circle cx="1045.33" cy="215.20" r="11.5" fill="none" stroke="#000" stroke-width="1.7"/>
<circle cx="1220.13" cy="310.75" r="11.5" fill="none" stroke="#000" stroke-width="1.7"/>
<circle cx="1394.93" cy="389.60" r="11.5" fill="none" stroke="#000" stroke-width="1.7"/>
<path d="M870.53 10.45L883.03 33.65L858.03 33.65Z" fill="#000"/>
<path d="M957.93 56.10L970.43 79.30L945.43 79.30Z" fill="#000"/>
<path d="M1045.33 90.60L1057.83 113.80L1032.83 113.80Z" fill="#000"/>
<path d="M1220.13 149.80L1232.63 173.00L1207.63 173.00Z" fill="#000"/>
<path d="M1394.93 207.65L1407.43 230.85L1382.43 230.85Z" fill="#000"/>
<text transform="translate(-3.35,95.11) scale(0.9773,1)" font-family="'Liberation Serif', serif" font-weight="bold" font-size="34.66" fill="#dc0804">104.941</text>
<text transform="translate(454.45,94.07) scale(1.0281,1)" font-family="'Liberation Serif', serif" font-weight="bold" font-size="23.90" fill="#dc0804">Linear Regression</text>
<text transform="translate(396.82,212.04) scale(1.0202,1)" font-family="'Liberation Serif', serif" font-weight="bold" font-size="23.99" fill="#dc0804">Linear Regression</text>
<text transform="translate(420.12,406.16) scale(1.0290,1)" font-family="'Liberation Serif', serif" font-weight="bold" font-size="23.88" fill="#dc0804">Linear Regression</text>
<text transform="translate(1213.70,114.46) scale(1.0560,1)" font-family="'Liberation Serif', serif" font-weight="bold" font-size="23.23" fill="#dc0804">Linear Regression</text>
<text transform="translate(1137.68,244.76) scale(1.0578,1)" font-family="'Liberation Serif', serif" font-weight="bold" font-size="23.23" fill="#dc0804">Linear Regression</text>
<text transform="translate(1164.49,453.74) scale(1.0248,1)" font-family="'Liberation Serif', serif" font-weight="bold" font-size="24.01" fill="#dc0804">Linear Regression</text>
<text transform="translate(286.28,51.92) scale(0.9567,1)" font-family="'Liberation Serif', serif" font-weight="bold" font-size="42.82" fill="#dc0804">H</text>
<text x="317.71" y="73.19" font-family="'Liberation Serif', serif" font-weight="bold" font-size="29.51" fill="#dc0804">3</text>
<text transform="translate(333.36,53.44) scale(0.9688,1)" font-family="'Liberation Serif', serif" font-weight="bold" font-size="43.66" fill="#dc0804">PO</text>
<text transform="translate(390.49,72.74) scale(0.9544,1)" font-family="'Liberation Serif', serif" font-weight="bold" font-size="29.50" fill="#dc0804">4</text>
<text transform="translate(1008.01,63.02) scale(0.9595,1)" font-family="'Liberation Serif', serif" font-weight="bold" font-size="42.82" fill="#dc0804">H</text>
<text x="1039.58" y="84.29" font-family="'Liberation Serif', serif" font-weight="bold" font-size="29.51" fill="#dc0804">3</text>
<text transform="translate(1055.10,63.53) scale(0.9668,1)" font-family="'Liberation Serif', serif" font-weight="bold" font-size="43.64" fill="#dc0804">PO</text>
<text transform="translate(1112.15,83.84) scale(0.9503,1)" font-family="'Liberation Serif', serif" font-weight="bold" font-size="29.50" fill="#dc0804">4</text>
<text x="562.17" y="303.65" font-family="'Liberation Serif', serif" font-weight="bold" font-size="45.54" fill="#dc0804">H</text>
<text transform="translate(596.65,327.97) scale(1.0510,1)" font-family="'Liberation Serif', serif" font-weight="bold" font-size="32.49" fill="#dc0804">2</text>
<text transform="translate(613.14,304.42) scale(0.9677,1)" font-family="'Liberation Serif', serif" font-weight="bold" font-size="47.44" fill="#dc0804">SO</text>
<text transform="translate(675.16,327.93) scale(0.8860,1)" font-family="'Liberation Serif', serif" font-weight="bold" font-size="32.66" fill="#dc0804">4</text>
<text x="1292.47" y="329.75" font-family="'Liberation Serif', serif" font-weight="bold" font-size="45.54" fill="#dc0804">H</text>
<text transform="translate(1326.91,354.06) scale(1.0430,1)" font-family="'Liberation Serif', serif" font-weight="bold" font-size="32.45" fill="#dc0804">2</text>
<text transform="translate(1343.19,330.53) scale(0.9689,1)" font-family="'Liberation Serif', serif" font-weight="bold" font-size="47.47" fill="#dc0804">SO</text>
<text transform="translate(1405.22,354.03) scale(0.8924,1)" font-family="'Liberation Serif', serif" font-weight="bold" font-size="32.66" fill="#dc0804">4</text>
<text transform="translate(603.44,532.55) scale(1.0610,1)" font-family="'Liberation Serif', serif" font-weight="bold" font-size="42.63" fill="#dc0804">HCl</text>
<text transform="translate(1318.41,568.55) scale(1.0559,1)" font-family="'Liberation Serif', serif" font-weight="bold" font-size="42.63" fill="#dc0804">HCl</text>
<text transform="translate(630.15,56.52) scale(1.0584,1)" font-family="'Liberation Serif', serif" font-weight="bold" font-size="40.51" fill="#000">(a)</text>
<text transform="translate(1345.28,66.52) scale(1.0452,1)" font-family="'Liberation Serif', serif" font-weight="bold" font-size="40.52" fill="#000">(b)</text>
<text transform="translate(290.94,628.99) scale(1.0488,1)" font-family="'Liberation Serif', serif" font-weight="bold" font-style="italic" font-size="34.90" fill="#dc0804">T</text>
<text transform="translate(311.70,645.97) scale(1.1147,1)" font-family="'Liberation Serif', serif" font-weight="bold" font-size="20.29" fill="#dc0804">cr</text>
<text transform="translate(337.92,628.06) scale(1.1974,1)" font-family="'Liberation Serif', serif" font-weight="bold" font-size="32.25" fill="#dc0804">=</text>
<text x="373.86" y="629.00" font-family="'Liberation Serif', serif" font-weight="bold" font-size="34.32" fill="#dc0804">320.70 K</text>
<text transform="translate(1035.53,628.99) scale(1.0456,1)" font-family="'Liberation Serif', serif" font-weight="bold" font-style="italic" font-size="34.90" fill="#dc0804">T</text>
<text transform="translate(1056.42,645.98) scale(1.1049,1)" font-family="'Liberation Serif', serif" font-weight="bold" font-size="20.34" fill="#dc0804">cr</text>
<text transform="translate(1082.65,628.06) scale(1.1976,1)" font-family="'Liberation Serif', serif" font-weight="bold" font-size="32.25" fill="#dc0804">=</text>
<text transform="translate(1118.27,628.90) scale(1.0089,1)" font-family="'Liberation Serif', serif" font-weight="bold" font-size="34.00" fill="#dc0804">320.70 K</text>
<rect x="113.5" y="560.3" width="122.50" height="70.70" fill="#fff" stroke="#000" stroke-width="1.6"/>
<path d="M122.10 577H173.90" stroke="#0000d2" stroke-width="6.1"/>
<path d="M122.10 595.7H173.90" stroke="#0000d2" stroke-width="6.1"/>
<path d="M122.10 615.3H173.90" stroke="#0000d2" stroke-width="6.1"/>
<circle cx="148.60" cy="576.60" r="12.6" fill="#000"/>
<circle cx="148.60" cy="595.70" r="11.5" fill="none" stroke="#000" stroke-width="1.7"/>
<path d="M148.60 604.10L161.10 626.70L136.10 626.70Z" fill="#000"/>
<text x="176.30" y="583.00" font-family="'Liberation Sans', sans-serif" font-weight="normal" font-size="16.20" fill="#000" text-rendering="optimizeLegibility">HCl</text>
<text x="176.30" y="601.00" font-family="'Liberation Sans', sans-serif" font-weight="normal" font-size="16.20" fill="#000" text-rendering="optimizeLegibility">H2SO4</text>
<text x="176.30" y="620.90" font-family="'Liberation Sans', sans-serif" font-weight="normal" font-size="16.20" fill="#000" text-rendering="optimizeLegibility">H3PO4</text>
<rect x="858.3" y="560.3" width="122.50" height="70.70" fill="#fff" stroke="#000" stroke-width="1.6"/>
<path d="M866.90 577H918.70" stroke="#0000d2" stroke-width="6.1"/>
<path d="M866.90 595.7H918.70" stroke="#0000d2" stroke-width="6.1"/>
<path d="M866.90 615.3H918.70" stroke="#0000d2" stroke-width="6.1"/>
<circle cx="893.40" cy="576.60" r="12.6" fill="#000"/>
<circle cx="893.40" cy="595.70" r="11.5" fill="none" stroke="#000" stroke-width="1.7"/>
<path d="M893.40 604.10L905.90 626.70L880.90 626.70Z" fill="#000"/>
<text x="921.10" y="583.00" font-family="'Liberation Sans', sans-serif" font-weight="normal" font-size="16.20" fill="#000" text-rendering="optimizeLegibility">HCl</text>
<text x="921.10" y="601.00" font-family="'Liberation Sans', sans-serif" font-weight="normal" font-size="16.20" fill="#000" text-rendering="optimizeLegibility">H2SO4</text>
<text x="921.10" y="620.90" font-family="'Liberation Sans', sans-serif" font-weight="normal" font-size="16.20" fill="#000" text-rendering="optimizeLegibility">H3PO4</text>
<text transform="translate(56.11,659.69) scale(0.9750,1)" font-family="'Liberation Sans', sans-serif" font-weight="bold" font-size="25.20" fill="#000" text-rendering="optimizeLegibility">20</text>
<text transform="translate(56.11,531.43) scale(0.9750,1)" font-family="'Liberation Sans', sans-serif" font-weight="bold" font-size="25.20" fill="#000" text-rendering="optimizeLegibility">40</text>
<text transform="translate(56.11,403.17) scale(0.9750,1)" font-family="'Liberation Sans', sans-serif" font-weight="bold" font-size="25.20" fill="#000" text-rendering="optimizeLegibility">60</text>
<text transform="translate(56.11,274.91) scale(0.9750,1)" font-family="'Liberation Sans', sans-serif" font-weight="bold" font-size="25.20" fill="#000" text-rendering="optimizeLegibility">80</text>
<text transform="translate(42.35,146.65) scale(0.9750,1)" font-family="'Liberation Sans', sans-serif" font-weight="bold" font-size="25.20" fill="#000" text-rendering="optimizeLegibility">100</text>
<text transform="translate(42.35,18.39) scale(0.9750,1)" font-family="'Liberation Sans', sans-serif" font-weight="bold" font-size="25.20" fill="#000" text-rendering="optimizeLegibility">120</text>
<text transform="translate(77.91,689.09) scale(0.9750,1)" font-family="'Liberation Sans', sans-serif" font-weight="bold" font-size="25.20" fill="#000" text-rendering="optimizeLegibility">290</text>
<text transform="translate(165.34,689.09) scale(0.9750,1)" font-family="'Liberation Sans', sans-serif" font-weight="bold" font-size="25.20" fill="#000" text-rendering="optimizeLegibility">300</text>
<text transform="translate(252.76,689.09) scale(0.9750,1)" font-family="'Liberation Sans', sans-serif" font-weight="bold" font-size="25.20" fill="#000" text-rendering="optimizeLegibility">310</text>
<text transform="translate(340.19,689.09) scale(0.9750,1)" font-family="'Liberation Sans', sans-serif" font-weight="bold" font-size="25.20" fill="#000" text-rendering="optimizeLegibility">320</text>
<text transform="translate(427.62,689.09) scale(0.9750,1)" font-family="'Liberation Sans', sans-serif" font-weight="bold" font-size="25.20" fill="#000" text-rendering="optimizeLegibility">330</text>
<text transform="translate(515.05,689.09) scale(0.9750,1)" font-family="'Liberation Sans', sans-serif" font-weight="bold" font-size="25.20" fill="#000" text-rendering="optimizeLegibility">340</text>
<text transform="translate(602.48,689.09) scale(0.9750,1)" font-family="'Liberation Sans', sans-serif" font-weight="bold" font-size="25.20" fill="#000" text-rendering="optimizeLegibility">350</text>
<text transform="translate(689.91,689.09) scale(0.9750,1)" font-family="'Liberation Sans', sans-serif" font-weight="bold" font-size="25.20" fill="#000" text-rendering="optimizeLegibility">360</text>
<text transform="translate(786.95,659.99) scale(0.9750,1)" font-family="'Liberation Sans', sans-serif" font-weight="bold" font-size="25.20" fill="#000" text-rendering="optimizeLegibility">350</text>
<text transform="translate(786.95,553.06) scale(0.9750,1)" font-family="'Liberation Sans', sans-serif" font-weight="bold" font-size="25.20" fill="#000" text-rendering="optimizeLegibility">400</text>
<text transform="translate(786.95,446.13) scale(0.9750,1)" font-family="'Liberation Sans', sans-serif" font-weight="bold" font-size="25.20" fill="#000" text-rendering="optimizeLegibility">450</text>
<text transform="translate(786.95,339.19) scale(0.9750,1)" font-family="'Liberation Sans', sans-serif" font-weight="bold" font-size="25.20" fill="#000" text-rendering="optimizeLegibility">500</text>
<text transform="translate(786.95,232.26) scale(0.9750,1)" font-family="'Liberation Sans', sans-serif" font-weight="bold" font-size="25.20" fill="#000" text-rendering="optimizeLegibility">550</text>
<text transform="translate(786.95,125.33) scale(0.9750,1)" font-family="'Liberation Sans', sans-serif" font-weight="bold" font-size="25.20" fill="#000" text-rendering="optimizeLegibility">600</text>
<text transform="translate(786.95,18.39) scale(0.9750,1)" font-family="'Liberation Sans', sans-serif" font-weight="bold" font-size="25.20" fill="#000" text-rendering="optimizeLegibility">650</text>
<text transform="translate(822.91,689.09) scale(0.9750,1)" font-family="'Liberation Sans', sans-serif" font-weight="bold" font-size="25.20" fill="#000" text-rendering="optimizeLegibility">290</text>
<text transform="translate(910.31,689.09) scale(0.9750,1)" font-family="'Liberation Sans', sans-serif" font-weight="bold" font-size="25.20" fill="#000" text-rendering="optimizeLegibility">300</text>
<text transform="translate(997.71,689.09) scale(0.9750,1)" font-family="'Liberation Sans', sans-serif" font-weight="bold" font-size="25.20" fill="#000" text-rendering="optimizeLegibility">310</text>
<text transform="translate(1085.11,689.09) scale(0.9750,1)" font-family="'Liberation Sans', sans-serif" font-weight="bold" font-size="25.20" fill="#000" text-rendering="optimizeLegibility">320</text>
<text transform="translate(1172.51,689.09) scale(0.9750,1)" font-family="'Liberation Sans', sans-serif" font-weight="bold" font-size="25.20" fill="#000" text-rendering="optimizeLegibility">330</text>
<text transform="translate(1259.91,689.09) scale(0.9750,1)" font-family="'Liberation Sans', sans-serif" font-weight="bold" font-size="25.20" fill="#000" text-rendering="optimizeLegibility">340</text>
<text transform="translate(1347.31,689.09) scale(0.9750,1)" font-family="'Liberation Sans', sans-serif" font-weight="bold" font-size="25.20" fill="#000" text-rendering="optimizeLegibility">350</text>
<text transform="translate(1434.71,689.09) scale(0.9750,1)" font-family="'Liberation Sans', sans-serif" font-weight="bold" font-size="25.20" fill="#000" text-rendering="optimizeLegibility">360</text>
<text x="364.52" y="718.98" font-family="'Liberation Serif', serif" font-weight="bold" font-style="italic" font-size="33.50" fill="#000">T</text>
<text x="401.30" y="719.11" font-family="'Liberation Serif', serif" font-weight="normal" font-size="33.50" fill="#000">/</text>
<text x="420.83" y="719.07" font-family="'Liberation Serif', serif" font-weight="bold" font-size="33.50" fill="#000">K</text>
<text x="1109.12" y="718.98" font-family="'Liberation Serif', serif" font-weight="bold" font-style="italic" font-size="33.50" fill="#000">T</text>
<text x="1145.90" y="719.11" font-family="'Liberation Serif', serif" font-weight="normal" font-size="33.50" fill="#000">/</text>
<text x="1165.43" y="719.07" font-family="'Liberation Serif', serif" font-weight="bold" font-size="33.50" fill="#000">K</text>
<g transform="translate(36.9,479.8) rotate(-90)">
<text transform="translate(-0.67,0.03) scale(0.9632,1)" font-family="'Liberation Serif', serif" font-weight="bold" font-size="40.85" fill="#000">Δ</text>
<text transform="translate(26.76,0.10) scale(1.0217,1)" font-family="'Liberation Serif', serif" font-weight="bold" font-style="italic" font-size="39.24" fill="#000">H</text>
<text transform="translate(56.13,1.30) scale(1.0251,1)" font-family="'Liberation Serif', serif" font-weight="bold" font-size="40.89" fill="#000">°</text>
<text transform="translate(81.58,-0.31) scale(1.0445,1)" font-family="'Liberation Serif', serif" font-weight="normal" font-size="39.03" fill="#000">/</text>
<text transform="translate(101.14,-1.48) scale(1.0163,1)" font-family="'Liberation Serif', serif" font-weight="bold" font-size="36.83" fill="#000">kJ.mol</text>
<text x="211.39" y="-19.75" font-family="'Liberation Serif', serif" font-weight="bold" font-size="27.86" fill="#000">-</text>
<text transform="translate(219.85,-20.29) scale(0.9668,1)" font-family="'Liberation Serif', serif" font-weight="bold" font-size="25.35" fill="#000">1</text>
</g>
<g transform="translate(781.5,496.7) rotate(-90)">
<text transform="translate(-1.03,0.45) scale(0.9690,1)" font-family="'Liberation Serif', serif" font-weight="bold" font-size="41.36" fill="#000">Δ</text>
<text transform="translate(26.44,-0.06) scale(1.1509,1)" font-family="'Liberation Serif', serif" font-weight="bold" font-style="italic" font-size="39.04" fill="#000">S</text>
<text transform="translate(47.68,2.15) scale(1.0121,1)" font-family="'Liberation Serif', serif" font-weight="bold" font-size="42.45" fill="#000">°</text>
<text transform="translate(73.86,-0.24) scale(1.0648,1)" font-family="'Liberation Serif', serif" font-weight="normal" font-size="38.49" fill="#000">/</text>
<text transform="translate(91.72,-1.47) scale(1.0086,1)" font-family="'Liberation Serif', serif" font-weight="bold" font-size="38.70" fill="#000">J.K</text>
<text transform="translate(150.33,-17.68) scale(1.0739,1)" font-family="'Liberation Serif', serif" font-weight="bold" font-size="31.99" fill="#000">-</text>
<text transform="translate(161.09,-19.21) scale(0.8402,1)" font-family="'Liberation Serif', serif" font-weight="bold" font-size="25.12" fill="#000">1</text>
<text transform="translate(172.60,0.47) scale(1.0437,1)" font-family="'Liberation Serif', serif" font-weight="bold" font-size="35.63" fill="#000">.mol</text>
<text transform="translate(243.06,-19.55) scale(1.0443,1)" font-family="'Liberation Serif', serif" font-weight="bold" font-size="27.86" fill="#000">-</text>
<text transform="translate(252.09,-20.17) scale(0.9067,1)" font-family="'Liberation Serif', serif" font-weight="bold" font-size="25.24" fill="#000">1</text>
</g>
</svg>
</body></html>
